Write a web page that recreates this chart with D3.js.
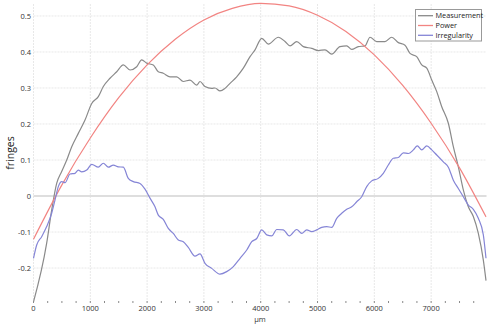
<!DOCTYPE html>
<html><head><meta charset="utf-8">
<script src="https://cdn.jsdelivr.net/npm/d3@7"></script>
<style>
html,body{margin:0;padding:0;background:#fff;}
svg{display:block;font-family:"Open Sans","Noto Sans",sans-serif;}
</style></head>
<body><svg id="c" width="495" height="325"></svg>
<script>
const seriesNames = ["Measurement", "Power", "Irregularity"];
const seriesColors = ["#8a8a8a", "#f28482", "#8585d6"];
const xTicks = [0, 1000, 2000, 3000, 4000, 5000, 6000, 7000];
const yTicks = [-0.2, -0.1, 0, 0.1, 0.2, 0.3, 0.4, 0.5];
const yTickLabels = ["-0.2", "-0.1", "0", "0.1", "0.2", "0.3", "0.4", "0.5"];

const measurementX = [0,232,320,408,496,585,673,789,907,1025,1141,1229,1347,1465,1581,1699,1817,1905,1993,2109,2197,2285,2403,2521,2637,2755,2873,2931,3019,3137,3195,3283,3371,3460,3577,3694,3812,3900,4018,4134,4310,4428,4516,4634,4750,4898,5014,5132,5250,5396,5514,5602,5718,5836,5924,6042,6188,6306,6423,6540,6628,6746,6835,6923,7011,7099,7187,7303,7391,7479,7567,7655,7743,7831,7919,7966];
const measurementY = [-0.294,-0.131,-0.039,0.035,0.068,0.1,0.137,0.174,0.211,0.257,0.276,0.304,0.327,0.345,0.364,0.35,0.359,0.378,0.369,0.364,0.345,0.341,0.331,0.331,0.318,0.322,0.308,0.318,0.304,0.299,0.3,0.292,0.299,0.313,0.331,0.355,0.387,0.406,0.438,0.422,0.441,0.429,0.417,0.429,0.415,0.41,0.404,0.406,0.394,0.415,0.417,0.407,0.415,0.417,0.441,0.429,0.429,0.441,0.426,0.419,0.396,0.387,0.364,0.355,0.322,0.29,0.248,0.202,0.137,0.081,0.017,-0.03,-0.057,-0.104,-0.178,-0.235];

const powerX = [0,500,1000,1500,2000,2500,3000,3500,4000,4500,5000,5500,6000,6500,7000,7500,7966];
const powerY = [-0.120,0.031,0.161,0.273,0.364,0.436,0.489,0.521,0.535,0.528,0.502,0.457,0.392,0.307,0.202,0.078,-0.058];

const irregX = [0,56,144,232,320,379,437,496,555,643,731,789,849,937,1025,1141,1229,1317,1405,1493,1581,1669,1757,1875,1963,2051,2139,2197,2285,2373,2461,2549,2637,2725,2843,2931,3019,3137,3283,3401,3518,3636,3754,3842,3930,4018,4106,4194,4282,4398,4504,4634,4722,4810,4898,4986,5074,5162,5250,5338,5426,5514,5602,5690,5778,5866,5954,6070,6158,6246,6335,6423,6511,6599,6687,6757,6835,6923,7011,7099,7215,7303,7391,7479,7567,7655,7743,7831,7919,7966];
const irregY = [-0.173,-0.136,-0.113,-0.085,-0.048,-0.011,0.026,0.04,0.037,0.061,0.063,0.072,0.067,0.072,0.088,0.08,0.091,0.08,0.086,0.081,0.08,0.049,0.04,0.035,0.019,-0.006,-0.03,-0.053,-0.065,-0.09,-0.104,-0.122,-0.127,-0.143,-0.167,-0.161,-0.187,-0.201,-0.217,-0.21,-0.196,-0.173,-0.15,-0.127,-0.118,-0.094,-0.108,-0.111,-0.093,-0.094,-0.111,-0.093,-0.104,-0.094,-0.099,-0.094,-0.087,-0.085,-0.087,-0.062,-0.048,-0.037,-0.03,-0.016,-0.002,0.026,0.042,0.049,0.063,0.086,0.105,0.107,0.12,0.118,0.128,0.139,0.128,0.139,0.128,0.114,0.095,0.08,0.044,0.021,-0.002,-0.025,-0.037,-0.062,-0.108,-0.173];

const series = [
  {name: seriesNames[0], color: seriesColors[0], pts: measurementX.map((v,i)=>[v, measurementY[i]])},
  {name: seriesNames[1], color: seriesColors[1], pts: powerX.map((v,i)=>[v, powerY[i]])},
  {name: seriesNames[2], color: seriesColors[2], pts: irregX.map((v,i)=>[v, irregY[i]])}
];

const svg = d3.select("#c");
const pL = 33.5, pR = 486.5, pT = 4, pB = 302;
const x = d3.scaleLinear().domain([0, 7966]).range([pL, pR - 0.5]);
const y = d3.scaleLinear().domain([-0.2944, 0.5333]).range([pB, pT]);

const grid = svg.append("g");
grid.selectAll(".vg").data(xTicks).join("line")
  .attr("x1", d=>x(d)).attr("x2", d=>x(d)).attr("y1", pT).attr("y2", pB)
  .attr("stroke", "#e8e8e8").attr("stroke-width", 1).attr("stroke-dasharray", "2,1");
grid.selectAll(".hg").data(yTicks).join("line")
  .attr("x1", pL).attr("x2", pR).attr("y1", d=>y(d)).attr("y2", d=>y(d))
  .attr("stroke", d => d === 0 ? "#dedede" : "#e8e8e8")
  .attr("stroke-width", d => d === 0 ? 1.8 : 1)
  .attr("stroke-dasharray", d => d === 0 ? null : "2,1");

// x axis ticks (major + minor)
const minor = d3.range(0, 8000, 250).filter(v => v <= 7966);
svg.append("g").selectAll("line").data(minor).join("line")
  .attr("x1", d=>x(d)).attr("x2", d=>x(d)).attr("y1", pB - 1).attr("y2", pB + 1)
  .attr("stroke", "#8a8a8a").attr("stroke-width", 1);

svg.append("g").selectAll("text").data(xTicks).join("text")
  .attr("x", d=>x(d)).attr("y", 311).attr("text-anchor", "middle")
  .attr("font-size", "7.5px").attr("fill", "#333").text(d=>d);

svg.append("g").selectAll("text").data(yTicks).join("text")
  .attr("x", 31).attr("y", d=>y(d) + 2.6).attr("text-anchor", "end")
  .attr("font-size", "7.5px").attr("fill", "#333").text((d,i)=>yTickLabels[i]);

// lines
const line = d3.line().x(d=>x(d[0])).y(d=>y(d[1])).curve(d3.curveMonotoneX);
svg.append("g").selectAll("path").data(series).join("path")
  .attr("d", d=>line(d.pts)).attr("fill", "none")
  .attr("stroke", d=>d.color).attr("stroke-width", 1.2);

// axis titles
svg.append("text").attr("transform", "translate(14,153) rotate(-90)")
  .attr("text-anchor", "middle").attr("font-size", "10.5px").attr("fill", "#222").text("fringes");
svg.append("text").attr("x", 260).attr("y", 322).attr("text-anchor", "middle")
  .attr("font-size", "7.5px").attr("fill", "#333").text("µm");

// legend
const lg = svg.append("g");
lg.append("rect").attr("x", 415.5).attr("y", 9.5).attr("width", 66).attr("height", 31.5)
  .attr("fill", "#fff").attr("stroke", "#999").attr("stroke-width", 1);
series.forEach((s, i) => {
  const yy = 15.7 + i * 9.8;
  lg.append("line").attr("x1", 418).attr("x2", 433).attr("y1", yy).attr("y2", yy)
    .attr("stroke", s.color).attr("stroke-width", 1.3);
  lg.append("text").attr("x", 435.5).attr("y", yy + 2.6).attr("font-size", "7.3px")
    .attr("fill", "#222").text(s.name);
});
</script></body></html>
